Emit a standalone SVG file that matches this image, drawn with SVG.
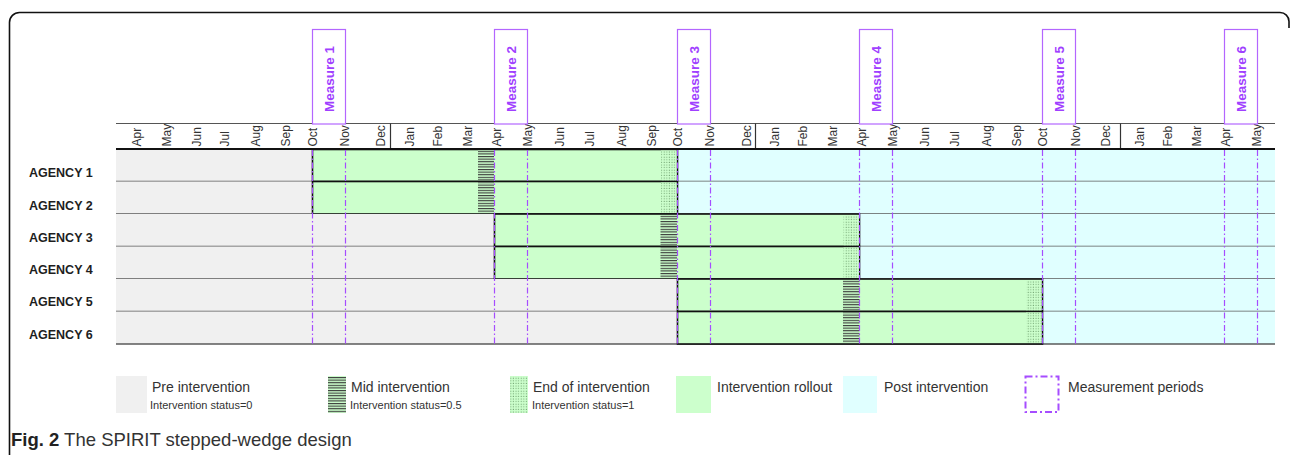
<svg xmlns="http://www.w3.org/2000/svg" width="1290" height="455" viewBox="0 0 1290 455">
<style>
.mon{font-family:"Liberation Sans",Arial,sans-serif;font-size:12px;fill:#333}
.meas{font-family:"Liberation Sans",Arial,sans-serif;font-size:13.5px;font-weight:bold;fill:#a040ff}
.mbox{fill:#fff;stroke:#b366ff;stroke-width:1.2}
.ag{font-family:"Liberation Sans",Arial,sans-serif;font-size:12.5px;font-weight:bold;fill:#1e1e1e}
.pre{fill:#f0f0f0}
.green{fill:#ccffcc}
.post{fill:#e0ffff}
.gbox{fill:#ccffcc;stroke:#111;stroke-width:1.6}
.rowline{stroke:#5a5a5a;stroke-width:1.3}
.mline{stroke:#a64dff;stroke-width:1.2;stroke-dasharray:6 2.5 1.5 2.5;fill:none}
.lg{font-family:"Liberation Sans",Arial,sans-serif;font-size:14px;fill:#333}
.lgs{font-family:"Liberation Sans",Arial,sans-serif;font-size:11px;fill:#333}
.cap{font-family:"Liberation Sans",Arial,sans-serif;font-size:18.5px;fill:#333}
</style>
<defs>
<pattern id="hatch" width="4" height="2.6" patternUnits="userSpaceOnUse"><rect width="4" height="2.6" fill="#ccffcc"/><rect width="4" height="1.1" fill="#3a3a3a"/></pattern>
<pattern id="dots" width="2.6" height="2.6" patternUnits="userSpaceOnUse"><rect width="2.6" height="2.6" fill="#ccffcc"/><rect x="0.7" y="0.7" width="0.9" height="0.9" fill="#5a8a5a"/></pattern>
</defs>
<rect width="1290" height="455" fill="#fff"/>
<path d="M9.5,455 V22.5 A10,10 0 0 1 19.5,12.5 H1280 A9,9 0 0 1 1289,21.5 V28" fill="none" stroke="#111" stroke-width="1.6"/>

<g id="header">
<line x1="116" y1="123.5" x2="1275" y2="123.5" stroke="#555" stroke-width="1.2"/>
<line x1="390.5" y1="123.5" x2="390.5" y2="149" stroke="#333" stroke-width="1.2"/>
<line x1="755.5" y1="123.5" x2="755.5" y2="149" stroke="#333" stroke-width="1.2"/>
<line x1="1120.5" y1="123.5" x2="1120.5" y2="149" stroke="#333" stroke-width="1.2"/>
<g class="mon">
<text transform="translate(141,146.5) rotate(-90)">Apr</text>
<text transform="translate(171,146.5) rotate(-90)">May</text>
<text transform="translate(201,146.5) rotate(-90)">Jun</text>
<text transform="translate(229,146.5) rotate(-90)">Jul</text>
<text transform="translate(260,146.5) rotate(-90)">Aug</text>
<text transform="translate(290,146.5) rotate(-90)">Sep</text>
<text transform="translate(317,146.5) rotate(-90)">Oct</text>
<text transform="translate(349,146.5) rotate(-90)">Nov</text>
<text transform="translate(385,146.5) rotate(-90)">Dec</text>
<text transform="translate(414,146.5) rotate(-90)">Jan</text>
<text transform="translate(442,146.5) rotate(-90)">Feb</text>
<text transform="translate(472,146.5) rotate(-90)">Mar</text>
<text transform="translate(501,146.5) rotate(-90)">Apr</text>
<text transform="translate(532,146.5) rotate(-90)">May</text>
<text transform="translate(564,146.5) rotate(-90)">Jun</text>
<text transform="translate(594,146.5) rotate(-90)">Jul</text>
<text transform="translate(626,146.5) rotate(-90)">Aug</text>
<text transform="translate(656,146.5) rotate(-90)">Sep</text>
<text transform="translate(682,146.5) rotate(-90)">Oct</text>
<text transform="translate(714,146.5) rotate(-90)">Nov</text>
<text transform="translate(751,146.5) rotate(-90)">Dec</text>
<text transform="translate(779,146.5) rotate(-90)">Jan</text>
<text transform="translate(807,146.5) rotate(-90)">Feb</text>
<text transform="translate(837,146.5) rotate(-90)">Mar</text>
<text transform="translate(866,146.5) rotate(-90)">Apr</text>
<text transform="translate(897,146.5) rotate(-90)">May</text>
<text transform="translate(929,146.5) rotate(-90)">Jun</text>
<text transform="translate(959,146.5) rotate(-90)">Jul</text>
<text transform="translate(991,146.5) rotate(-90)">Aug</text>
<text transform="translate(1021,146.5) rotate(-90)">Sep</text>
<text transform="translate(1047,146.5) rotate(-90)">Oct</text>
<text transform="translate(1080,146.5) rotate(-90)">Nov</text>
<text transform="translate(1110,146.5) rotate(-90)">Dec</text>
<text transform="translate(1144,146.5) rotate(-90)">Jan</text>
<text transform="translate(1172,146.5) rotate(-90)">Feb</text>
<text transform="translate(1201,146.5) rotate(-90)">Mar</text>
<text transform="translate(1230,146.5) rotate(-90)">Apr</text>
<text transform="translate(1261,146.5) rotate(-90)">May</text>
</g>
</g>

<g id="measure1"><rect class="mbox" x="312.5" y="29.5" width="33" height="94.5"/><text class="meas" text-anchor="middle" transform="translate(333.5,79) rotate(-90)">Measure 1</text></g>
<g id="measure2"><rect class="mbox" x="494.5" y="29.5" width="33" height="94.5"/><text class="meas" text-anchor="middle" transform="translate(515.5,79) rotate(-90)">Measure 2</text></g>
<g id="measure3"><rect class="mbox" x="677.5" y="29.5" width="33" height="94.5"/><text class="meas" text-anchor="middle" transform="translate(698.5,79) rotate(-90)">Measure 3</text></g>
<g id="measure4"><rect class="mbox" x="859.5" y="29.5" width="33" height="94.5"/><text class="meas" text-anchor="middle" transform="translate(880.5,79) rotate(-90)">Measure 4</text></g>
<g id="measure5"><rect class="mbox" x="1042.5" y="29.5" width="33" height="94.5"/><text class="meas" text-anchor="middle" transform="translate(1063.5,79) rotate(-90)">Measure 5</text></g>
<g id="measure6"><rect class="mbox" x="1224.5" y="29.5" width="33" height="94.5"/><text class="meas" text-anchor="middle" transform="translate(1245.5,79) rotate(-90)">Measure 6</text></g>

<g id="agency1">
<rect class="pre" x="116" y="149" width="196" height="32.5"/><rect class="post" x="677" y="149" width="598" height="32.5"/>
<line class="rowline" x1="116" y1="181.5" x2="1275" y2="181.5"/>
<rect class="gbox" x="312.5" y="149.5" width="365" height="32"/>
<rect x="478" y="150.5" width="16" height="30" fill="url(#hatch)"/><rect x="661" y="150.5" width="15.5" height="30" fill="url(#dots)"/>
<text class="ag" x="29" y="177">AGENCY 1</text>
</g>
<g id="agency2">
<rect class="pre" x="116" y="181.5" width="196" height="32.5"/><rect class="post" x="677" y="181.5" width="598" height="32.5"/>
<line class="rowline" x1="116" y1="214" x2="1275" y2="214"/>
<rect class="gbox" x="312.5" y="181.5" width="365" height="32.5"/>
<rect x="478" y="182.5" width="16" height="30.5" fill="url(#hatch)"/><rect x="661" y="182.5" width="15.5" height="30.5" fill="url(#dots)"/>
<text class="ag" x="29" y="209.5">AGENCY 2</text>
</g>
<g id="agency3">
<rect class="pre" x="116" y="214" width="378" height="32.5"/><rect class="post" x="859" y="214" width="416" height="32.5"/>
<line class="rowline" x1="116" y1="246.5" x2="1275" y2="246.5"/>
<rect class="gbox" x="494.5" y="214" width="365" height="32.5"/>
<rect x="660.5" y="215" width="16.5" height="30.5" fill="url(#hatch)"/><rect x="843.5" y="215" width="15.5" height="30.5" fill="url(#dots)"/>
<text class="ag" x="29" y="242">AGENCY 3</text>
</g>
<g id="agency4">
<rect class="pre" x="116" y="246.5" width="378" height="32.5"/><rect class="post" x="859" y="246.5" width="416" height="32.5"/>
<line class="rowline" x1="116" y1="279" x2="1275" y2="279"/>
<rect class="gbox" x="494.5" y="246.5" width="365" height="32.5"/>
<rect x="660.5" y="247.5" width="16.5" height="30.5" fill="url(#hatch)"/><rect x="843.5" y="247.5" width="15.5" height="30.5" fill="url(#dots)"/>
<text class="ag" x="29" y="274">AGENCY 4</text>
</g>
<g id="agency5">
<rect class="pre" x="116" y="279" width="561" height="32.5"/><rect class="post" x="1042" y="279" width="233" height="32.5"/>
<line class="rowline" x1="116" y1="311.5" x2="1275" y2="311.5"/>
<rect class="gbox" x="677.5" y="279" width="365" height="32.5"/>
<rect x="843" y="280" width="16.5" height="30.5" fill="url(#hatch)"/><rect x="1026" y="280" width="15.5" height="30.5" fill="url(#dots)"/>
<text class="ag" x="29" y="306">AGENCY 5</text>
</g>
<g id="agency6">
<rect class="pre" x="116" y="311.5" width="561" height="32.5"/><rect class="post" x="1042" y="311.5" width="233" height="32.5"/>
<line class="rowline" x1="116" y1="344" x2="1275" y2="344"/>
<rect class="gbox" x="677.5" y="311.5" width="365" height="32.5"/>
<rect x="843" y="312.5" width="16.5" height="30.5" fill="url(#hatch)"/><rect x="1026" y="312.5" width="15.5" height="30.5" fill="url(#dots)"/>
<text class="ag" x="29" y="338.5">AGENCY 6</text>
</g>

<g id="connectors">
<line class="mline" x1="312.5" y1="150" x2="312.5" y2="344"/>
<line class="mline" x1="345.5" y1="150" x2="345.5" y2="344"/>
<line class="mline" x1="494.5" y1="150" x2="494.5" y2="344"/>
<line class="mline" x1="527.5" y1="150" x2="527.5" y2="344"/>
<line class="mline" x1="677.5" y1="150" x2="677.5" y2="344"/>
<line class="mline" x1="710.5" y1="150" x2="710.5" y2="344"/>
<line class="mline" x1="859.5" y1="150" x2="859.5" y2="344"/>
<line class="mline" x1="892.5" y1="150" x2="892.5" y2="344"/>
<line class="mline" x1="1042.5" y1="150" x2="1042.5" y2="344"/>
<line class="mline" x1="1075.5" y1="150" x2="1075.5" y2="344"/>
<line class="mline" x1="1224.5" y1="150" x2="1224.5" y2="344"/>
<line class="mline" x1="1257.5" y1="150" x2="1257.5" y2="344"/>
</g>
<line x1="116" y1="149" x2="1275" y2="149" stroke="#111" stroke-width="2"/>

<g id="legend-pre"><rect class="pre" x="116" y="376" width="31" height="37"/><text class="lg" x="152" y="392">Pre intervention</text><text class="lgs" x="150" y="409">Intervention status=0</text></g>
<g id="legend-mid"><rect x="328" y="376" width="18" height="37" fill="url(#hatch)"/><text class="lg" x="351" y="392">Mid intervention</text><text class="lgs" x="350" y="409">Intervention status=0.5</text></g>
<g id="legend-end"><rect x="510" y="376" width="18" height="37" fill="url(#dots)"/><text class="lg" x="533" y="392">End of intervention</text><text class="lgs" x="532" y="409">Intervention status=1</text></g>
<g id="legend-rollout"><rect class="green" x="676" y="376" width="35" height="37"/><text class="lg" x="717" y="392">Intervention rollout</text></g>
<g id="legend-post"><rect class="post" x="843" y="376" width="34" height="37"/><text class="lg" x="884" y="392">Post intervention</text></g>
<g id="legend-measure"><rect x="1025.5" y="376.5" width="33" height="35.5" fill="none" stroke="#a64dff" stroke-width="2" stroke-dasharray="7 3 2 3"/><text class="lg" x="1068" y="392">Measurement periods</text></g>

<text class="cap" x="11" y="446"><tspan font-weight="bold" fill="#222">Fig. 2</tspan> The SPIRIT stepped-wedge design</text>
</svg>
